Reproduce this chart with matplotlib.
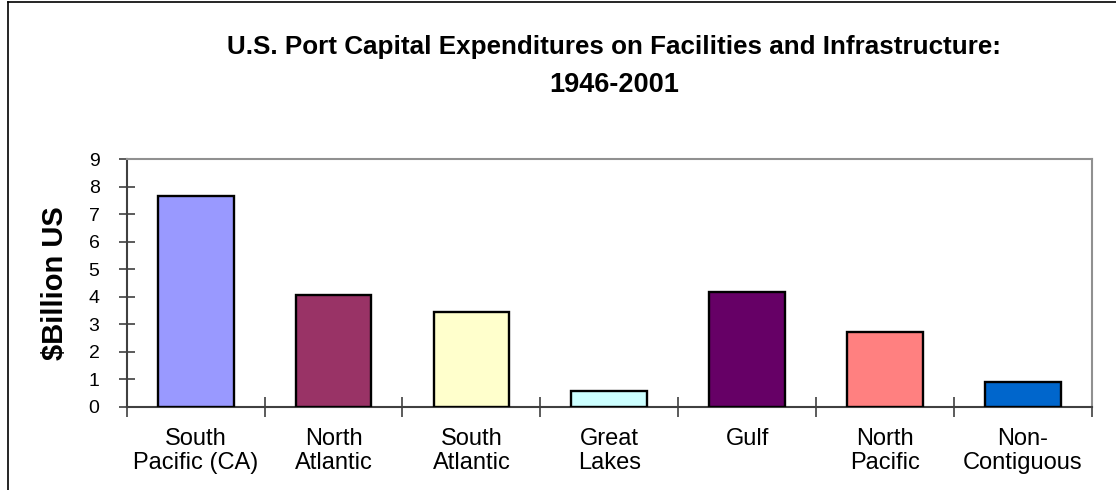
import numpy as np
import matplotlib.pyplot as plt
from matplotlib.lines import Line2D

plt.rcParams['font.family'] = ['Liberation Sans', 'DejaVu Sans']

# Data
regions = ['South\nPacific (CA)', 'North\nAtlantic', 'South\nAtlantic', 'Great\nLakes',
           'Gulf', 'North\nPacific', 'Non-\nContiguous']
spending = [7.65, 4.05, 3.45, 0.57, 4.17, 2.72, 0.89]
colors = ['#9999FF', '#993366', '#FFFFCC', '#CCFFFF', '#660066', '#FF8080', '#0066CC']

fig = plt.figure(figsize=(11.16, 4.90), dpi=100)
ax = fig.add_axes([0.1135, 0.170, 0.865, 0.5055])

x = np.arange(len(regions))
ax.bar(x, spending, width=0.55, color=colors, edgecolor='black', linewidth=1.7, zorder=3)

ax.set_xlim(-0.5, len(regions) - 0.5)
ax.set_ylim(0, 9)
ax.set_yticks(range(10))

# category boundaries as ticks, labels in the middle
ax.set_xticks(np.arange(-0.5, len(regions), 1.0))
ax.set_xticklabels([])
ax.set_xticks(x, minor=True)
ax.set_xticklabels(regions, minor=True, fontsize=17, linespacing=1.15)
ax.tick_params(axis='x', which='minor', length=0, pad=15)
ax.tick_params(axis='x', which='major', direction='inout', length=15, width=1.2, color='#404040')
ax.tick_params(axis='y', direction='inout', length=12, width=1.2, color='#404040', labelsize=14, pad=13.5)

for s in ['left', 'bottom']:
    ax.spines[s].set_color('#404040')
    ax.spines[s].set_linewidth(1.5)
for s in ['top', 'right']:
    ax.spines[s].set_color('#909090')
    ax.spines[s].set_linewidth(1.5)

ax.set_ylabel('$Billion US', fontsize=21, fontweight='bold', labelpad=14)

fig.text(614 / 1116, 1 - 54 / 490, 'U.S. Port Capital Expenditures on Facilities and Infrastructure:',
         ha='center', va='baseline', fontsize=18.7, fontweight='bold')
fig.text(614 / 1116, 1 - 92 / 490, '1946-2001',
         ha='center', va='baseline', fontsize=19.5, fontweight='bold')

# chart area border (left and top edges visible)
fig.add_artist(Line2D([8 / 1116, 8 / 1116], [0, 488 / 490], color='black', linewidth=1.2))
fig.add_artist(Line2D([8 / 1116, 1], [488 / 490, 488 / 490], color='black', linewidth=1.2))

fig.savefig('out.png', dpi=100)
